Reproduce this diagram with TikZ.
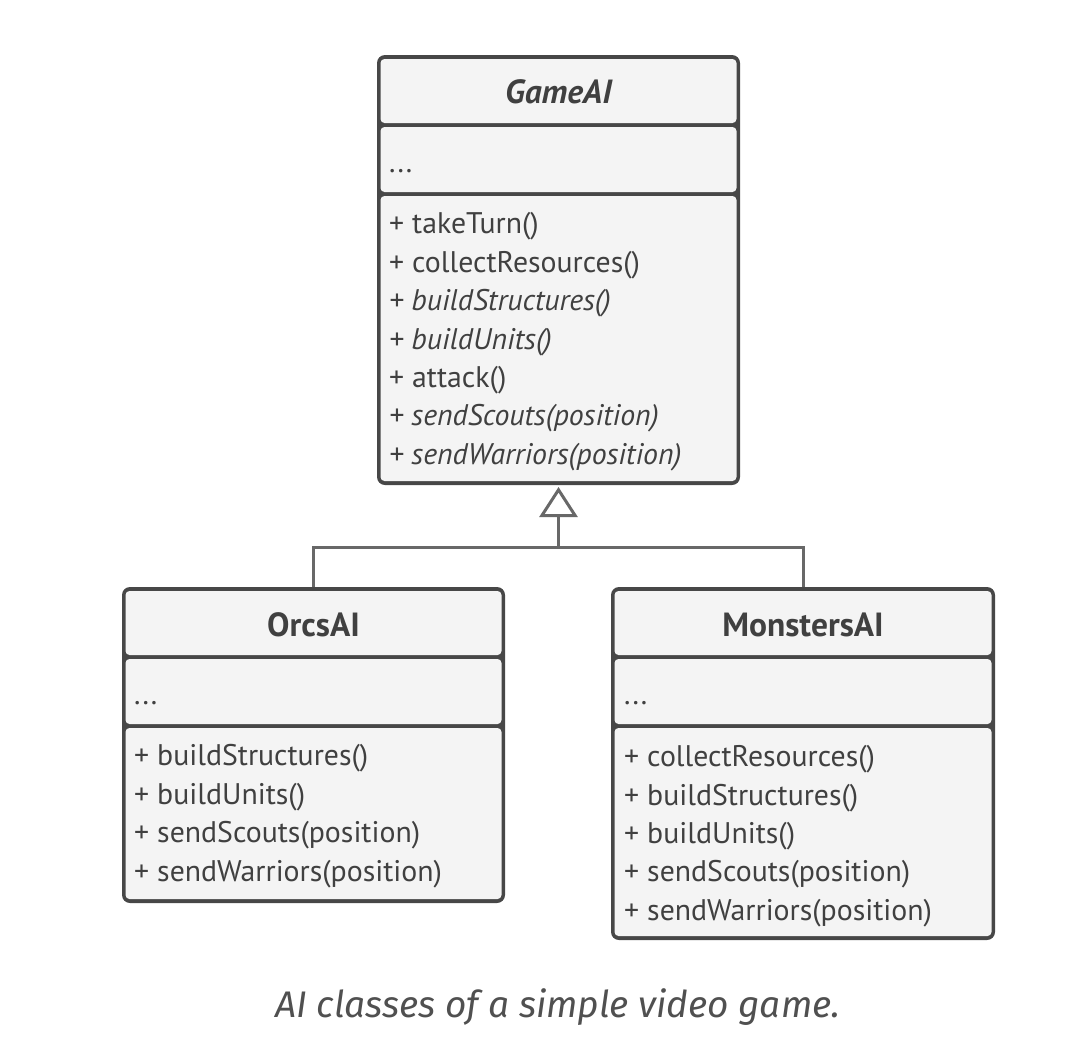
\documentclass[tikz,border=0pt]{standalone}
\usepackage{fontspec}
\setmainfont{PT Sans}
\newfontfamily\capfont{Fira Sans}
\usetikzlibrary{arrows.meta}
\definecolor{boxdark}{HTML}{474747}
\definecolor{boxlight}{HTML}{F4F4F4}
\definecolor{conncol}{HTML}{686868}
\definecolor{txtcol}{HTML}{404040}
\definecolor{capcol}{HTML}{505050}
\tikzset{
  classbox/.style={rectangle, rounded corners=8pt, fill=boxdark, inner sep=0pt, outer sep=0pt},
  comp/.style={fill=boxlight, rounded corners=4pt},
  titletext/.style={font=\fontsize{33.5}{40}\selectfont\bfseries, text=txtcol, inner sep=0pt, anchor=base},
  membertext/.style={font=\fontsize{29.8}{35}\selectfont, text=txtcol, inner sep=0pt, anchor=base west},
  conn/.style={draw=conncol, line width=3pt},
}
\begin{document}
\begin{tikzpicture}[x=1pt,y=-1pt]
\useasboundingbox (0,0) rectangle (1083,1061);
% GameAI
\node[classbox, minimum width=363pt, minimum height=430pt] (game) at (558.5,270) {};
\fill[comp] (380.5,59) rectangle (736.5,123);
\fill[comp] (380.5,127) rectangle (736.5,192);
\fill[comp] (380.5,196) rectangle (736.5,481);
\node[titletext] (gt) at (558.5,103) {\itshape GameAI};
\node[membertext] (ga) at (389,172) {...};
\node[membertext] (g1) at (389,233) {+ takeTurn()};
\node[membertext] (g2) at (389,272) {+ collectResources()};
\node[membertext] (g3) at (389,310) {\itshape + buildStructures()};
\node[membertext] (g4) at (389,349) {\itshape + buildUnits()};
\node[membertext] (g5) at (389,387) {+ attack()};
\node[membertext] (g6) at (389,425) {\itshape + sendScouts(position)};
\node[membertext] (g7) at (389,464) {\itshape + sendWarriors(position)};
% OrcsAI
\node[classbox, minimum width=383pt, minimum height=316pt] (orcs) at (313.5,745) {};
\fill[comp] (125.5,591) rectangle (501.5,655);
\fill[comp] (125.5,659) rectangle (501.5,724);
\fill[comp] (125.5,728) rectangle (501.5,899);
\node[titletext] (ot) at (313.5,636) {OrcsAI};
\node[membertext] (oa) at (134,704) {...};
\node[membertext] (o1) at (134,765) {+ buildStructures()};
\node[membertext] (o2) at (134,804) {+ buildUnits()};
\node[membertext] (o3) at (134,842) {+ sendScouts(position)};
\node[membertext] (o4) at (134,881) {+ sendWarriors(position)};
% MonstersAI
\node[classbox, minimum width=384pt, minimum height=353pt] (mon) at (803,763.5) {};
\fill[comp] (614.5,591) rectangle (991.5,655);
\fill[comp] (614.5,659) rectangle (991.5,724);
\fill[comp] (614.5,728) rectangle (991.5,936);
\node[titletext] (mt) at (803,636) {MonstersAI};
\node[membertext] (ma) at (624,704) {...};
\node[membertext] (m1) at (624,766) {+ collectResources()};
\node[membertext] (m2) at (624,805) {+ buildStructures()};
\node[membertext] (m3) at (624,843) {+ buildUnits()};
\node[membertext] (m4) at (624,881) {+ sendScouts(position)};
\node[membertext] (m5) at (624,920) {+ sendWarriors(position)};
% connectors
\coordinate (j) at (558.5,547);
\draw[conn] (orcs.north) |- (j) -| (mon.north);
\draw[conn, -{Triangle[open, fill=white, length=30pt, width=38pt]}] (j) -- ([yshift=-2pt]game.south);
% caption
\node[font=\fontsize{37}{43}\selectfont\capfont\itshape, text=capcol, inner sep=0pt, anchor=base] (cap) at (558,1017) {AI classes of a simple video game.};
\end{tikzpicture}
\end{document}
